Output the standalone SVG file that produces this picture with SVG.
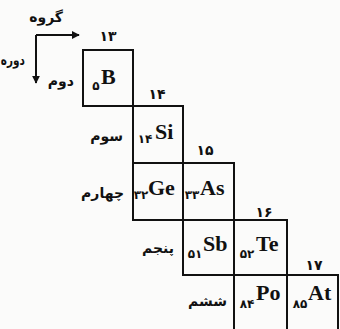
<svg xmlns="http://www.w3.org/2000/svg" width="340" height="329" viewBox="0 0 340 329">
<style>
.cell{fill:none;stroke:#111;stroke-width:2}
.sym{font-family:"Liberation Serif","Times New Roman",serif;font-weight:bold;font-size:22px;fill:#111}
.num{font-family:"DejaVu Sans",sans-serif;font-weight:bold;font-size:12px;fill:#111;text-anchor:middle}
.grp{font-family:"DejaVu Sans",sans-serif;font-weight:bold;font-size:14px;fill:#111;text-anchor:middle}
.per{font-family:"DejaVu Sans",sans-serif;font-weight:bold;font-size:14px;fill:#111;text-anchor:end}
.ln{stroke:#111;stroke-width:2;fill:none}
</style>
<defs>
<marker id="ah" viewBox="0 0 10 10" refX="9" refY="5" markerWidth="4" markerHeight="4" orient="auto" markerUnits="strokeWidth">
<path d="M0,0 L10,5 L0,10 z" fill="#111"/>
</marker>
</defs>
<rect width="340" height="329" fill="#fbfbfa"/>
<g id="connectors">
<path class="ln" d="M36,35 H79" marker-end="url(#ah)"/>
<path class="ln" d="M36,35 V83" marker-end="url(#ah)"/>
</g>
<g id="axis-labels">
<text class="per" x="63" y="22">گروه</text>
<text class="per" transform="translate(25,65) scale(0.75,1)">دوره</text>
</g>
<g id="B">
<rect class="cell" x="83" y="50" width="50" height="56"/>
<text class="grp" x="108" y="41">۱۳</text>
<text class="per" x="74" y="86">دوم</text>
<text class="num" x="96" y="90">۵</text>
<text class="sym" x="101" y="84">B</text>
</g>
<g id="Si">
<rect class="cell" x="133" y="106" width="50" height="57"/>
<text class="grp" x="157" y="99">۱۴</text>
<text class="per" x="123" y="141">سوم</text>
<text class="num" x="145" y="143">۱۴</text>
<text class="sym" x="155" y="139">Si</text>
</g>
<g id="Ge">
<rect class="cell" x="133" y="163" width="50" height="57"/>
<text class="per" x="124" y="198">چهارم</text>
<text class="num" x="141" y="199">۳۲</text>
<text class="sym" x="148" y="195">Ge</text>
</g>
<g id="As">
<rect class="cell" x="183" y="163" width="51" height="57"/>
<text class="grp" x="205" y="155">۱۵</text>
<text class="num" x="192" y="199">۳۳</text>
<text class="sym" x="200" y="195">As</text>
</g>
<g id="Sb">
<rect class="cell" x="183" y="220" width="51" height="55"/>
<text class="per" x="174" y="253">پنجم</text>
<text class="num" x="195" y="258">۵۱</text>
<text class="sym" x="203" y="251">Sb</text>
</g>
<g id="Te">
<rect class="cell" x="234" y="220" width="53" height="55"/>
<text class="grp" x="264" y="217">۱۶</text>
<text class="num" x="247" y="258">۵۲</text>
<text class="sym" x="256" y="251">Te</text>
</g>
<g id="Po">
<rect class="cell" x="234" y="275" width="53" height="60"/>
<text class="per" x="227" y="306">ششم</text>
<text class="num" x="247" y="308">۸۴</text>
<text class="sym" x="256" y="300">Po</text>
</g>
<g id="At">
<rect class="cell" x="287" y="275" width="51" height="60"/>
<text class="grp" x="314" y="270">۱۷</text>
<text class="num" x="300" y="308">۸۵</text>
<text class="sym" x="308" y="300">At</text>
</g>
</svg>
